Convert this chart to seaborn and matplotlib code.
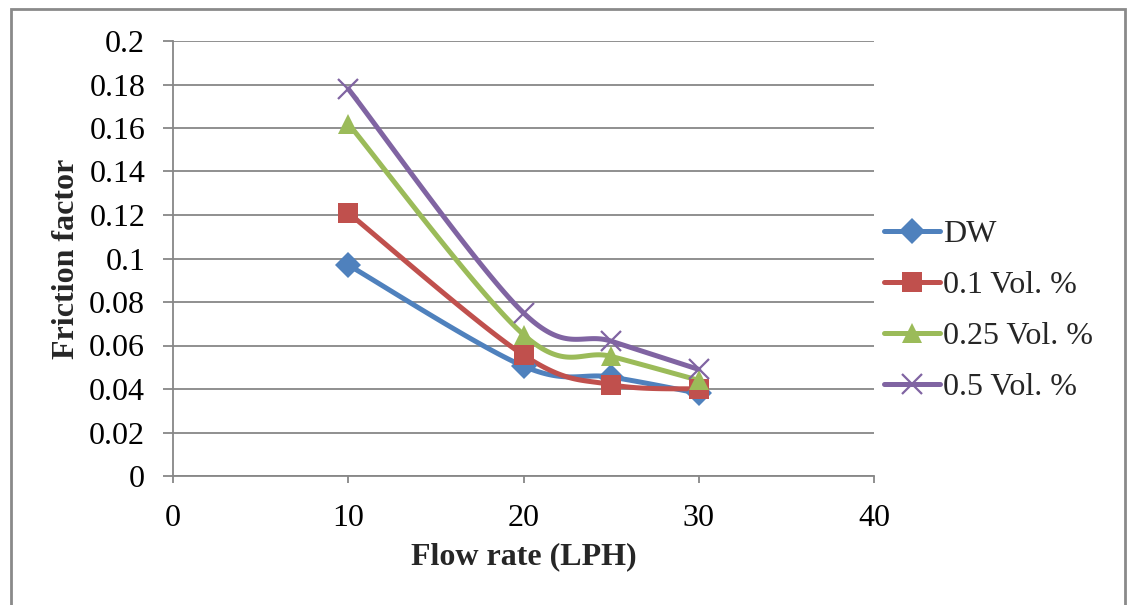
import numpy as np
import pandas as pd
import matplotlib
matplotlib.use("Agg")
import matplotlib.pyplot as plt
import seaborn as sns
from matplotlib.lines import Line2D
from matplotlib.patches import Rectangle

# ---- data ----
flow_rate = [10, 20, 25, 30]
series_names = ["DW", "0.1 Vol. %", "0.25 Vol. %", "0.5 Vol. %"]
dw = [0.097, 0.0505, 0.0455, 0.038]
vol01 = [0.121, 0.0556, 0.042, 0.040]
vol025 = [0.162, 0.065, 0.055, 0.044]
vol05 = [0.178, 0.075, 0.062, 0.049]
x_ticks = [0, 10, 20, 30, 40]
y_ticks = [0, 0.02, 0.04, 0.06, 0.08, 0.1, 0.12, 0.14, 0.16, 0.18, 0.2]
y_ticklabels = ["0", "0.02", "0.04", "0.06", "0.08", "0.1", "0.12", "0.14", "0.16", "0.18", "0.2"]

colors = ["#4F81BD", "#C0504D", "#9BBB59", "#8064A2"]
markers = ["D", "s", "^", "x"]
msizes = [13, 14, 15, 15]

df = pd.DataFrame({
    "flow": flow_rate * 4,
    "f": dw + vol01 + vol025 + vol05,
    "series": sum([[n] * len(flow_rate) for n in series_names], []),
})


def smooth(xs, ys, n=40):
    """Excel-style smoothed line (Catmull-Rom Bezier) through the data points."""
    P = np.column_stack([xs, ys]).astype(float)
    Pe = np.vstack([P[0], P, P[-1]])
    out = []
    t = np.linspace(0, 1, n)[:, None]
    for i in range(len(P) - 1):
        p0, p1, p2, p3 = Pe[i], Pe[i + 1], Pe[i + 2], Pe[i + 3]
        c1 = p1 + (p2 - p0) / 6.0
        c2 = p2 - (p3 - p1) / 6.0
        seg = ((1 - t) ** 3) * p1 + 3 * ((1 - t) ** 2) * t * c1 + 3 * (1 - t) * t ** 2 * c2 + t ** 3 * p2
        out.append(seg if i == 0 else seg[1:])
    c = np.vstack(out)
    return c[:, 0], c[:, 1]


sns.set_theme(style="white")
plt.rcParams["font.family"] = ["Liberation Serif", "DejaVu Serif"]

FS = 23
fig = plt.figure(figsize=(11.28, 6.05), dpi=100)
ax = fig.add_axes([173 / 1128, 1 - 476 / 605, (874 - 173) / 1128, (476 - 41) / 605])

grid_c = "#878787"
for name, col, mk, ms in zip(series_names, colors, markers, msizes):
    sub = df[df["series"] == name]
    sx, sy = smooth(sub["flow"].values, sub["f"].values)
    sns.lineplot(x=sx, y=sy, ax=ax, color=col, linewidth=3.6, sort=False,
                 estimator=None, zorder=3)
    if mk == "x":
        ax.plot(sub["flow"], sub["f"], linestyle="none", marker=mk, markersize=ms,
                markeredgewidth=1.6, color=col, zorder=4)
    else:
        ax.plot(sub["flow"], sub["f"], linestyle="none", marker=mk, markersize=ms,
                markeredgewidth=0, color=col, zorder=4)

ax.set_xlim(0, 40)
ax.set_ylim(0, 0.2)
ax.set_xticks(x_ticks)
ax.set_xticklabels([str(v) for v in x_ticks])
ax.set_yticks(y_ticks)
ax.set_yticklabels(y_ticklabels)
ax.yaxis.grid(True, color=grid_c, linewidth=1.3)
ax.xaxis.grid(False)
for s in ["top", "right"]:
    ax.spines[s].set_visible(False)
for s in ["left", "bottom"]:
    ax.spines[s].set_color(grid_c)
    ax.spines[s].set_linewidth(1.3)
ax.tick_params(axis="y", which="major", left=True, length=7, width=1.3, color=grid_c,
               direction="out", labelsize=FS, pad=13, labelcolor="black")
ax.tick_params(axis="x", which="major", bottom=True, length=5, width=1.3, color=grid_c,
               direction="out", labelsize=FS, pad=15, labelcolor="black")
ax.set_xlabel("Flow rate (LPH)", fontsize=FS, fontweight="bold", labelpad=7)
ax.set_ylabel("Friction factor", fontsize=FS, fontweight="bold", labelpad=6)

handles = []
for name, col, mk, ms in zip(series_names, colors, markers, msizes):
    if mk == "x":
        h = Line2D([], [], color=col, linewidth=3.6, marker=mk, markersize=ms, markeredgewidth=1.6)
    else:
        h = Line2D([], [], color=col, linewidth=3.6, marker=mk, markersize=ms, markeredgewidth=0)
    handles.append(h)
fig.legend(handles, series_names, loc="center left", bbox_to_anchor=(884 / 1128, 1 - 311 / 605),
           frameon=False, fontsize=FS, handlelength=1.75, handletextpad=0.1,
           labelspacing=0.68, borderpad=0, borderaxespad=0)

fig.patches.append(Rectangle((11 / 1128, -0.05), (1125 - 11) / 1128, 1.05 - 9 / 605,
                             transform=fig.transFigure, fill=False, edgecolor="#8a8a8a",
                             linewidth=2, zorder=0))

fig.savefig("out.png", dpi=100)
